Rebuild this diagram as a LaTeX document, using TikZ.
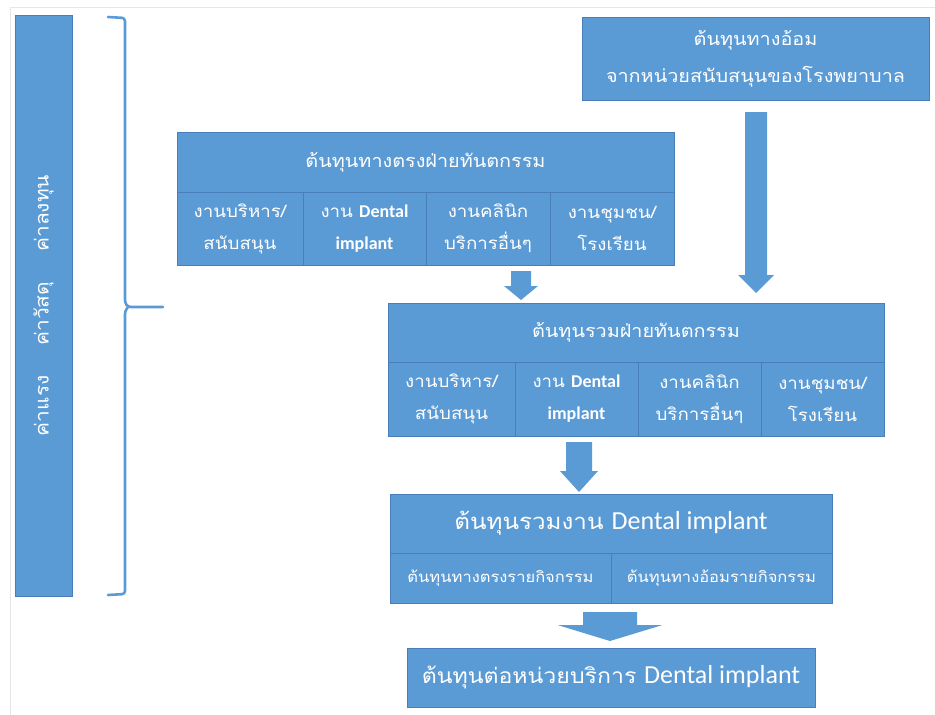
\documentclass[tikz,border=0pt]{standalone}
\usepackage{fontspec}
\setmainfont{Carlito}
\newfontfamily\thai[Script=Thai, FakeStretch=1.1]{Loma}
\definecolor{boxblue}{HTML}{5B9BD5}
\definecolor{edgeblue}{HTML}{4A7EBB}
\definecolor{framegray}{HTML}{E6E6E6}
\tikzset{
  cell/.style={rectangle, fill=boxblue, draw=edgeblue, line width=0.8pt,
    text=white, align=center, inner sep=0pt, font=\thai\fontsize{17}{32}\selectfont},
  subcell/.style={cell, font=\thai\fontsize{15}{32}\selectfont},
  head/.style={cell, font=\thai\fontsize{18}{36}\selectfont},
  bighead/.style={cell, font=\thai\fontsize{22}{36}\selectfont},
  blockarr/.style={fill=boxblue, draw=none},
  bracestyle/.style={draw=boxblue, line width=2.6pt, line join=round, line cap=round}
}
\newcommand\lat[1]{{\fontspec{Carlito}#1}}
\newcommand\latb[1]{{\fontspec{Carlito}\bfseries\fontsize{18}{32}\selectfont #1}}
% block arrow: center x, top y, shaft width, head width, head top y, tip y
\newcommand\blkarrow[6]{%
  \fill[blockarr] ({#1-#3/2},#2) -- ({#1+#3/2},#2) -- ({#1+#3/2},#5) -- ({#1+#4/2},#5)
    -- (#1,#6) -- ({#1-#4/2},#5) -- ({#1-#3/2},#5) -- cycle;}
\begin{document}
\begin{tikzpicture}[x=1pt,y=-1pt]
\useasboundingbox (0,0) rectangle (935,715);
\draw[framegray, line width=1pt] (10,715) -- (10,7) -- (935,7);

% left bar
\node[cell, minimum width=57pt, minimum height=581pt] (bar) at (43.5,305.5) {};
\node[rotate=90, text=white, font=\thai\fontsize{19}{22}\selectfont] (bartext) at (bar.center)
  {ค่าแรง\hspace{30pt}ค่าวัสดุ\hspace{30pt}ค่าลงทุน};

% brace
\coordinate (btop) at (108,17);
\coordinate (bbot) at (108,595);
\coordinate (btip) at (163,307);
\draw[bracestyle, rounded corners=3pt] (btop) -- (125,18) -- (125,303) -- (128,307) -- (btip);
\draw[bracestyle, rounded corners=3pt] (128,307) -- (125,311) -- (125,594) -- (bbot);

% indirect cost box
\node[head, minimum width=347pt, minimum height=83pt, font=\thai\fontsize{18}{37}\selectfont] (indirect) at (755.5,58.5)
  {ต้นทุนทางอ้อม\\จากหน่วยสนับสนุนของโรงพยาบาล};

% direct cost box
\node[head, minimum width=497pt, minimum height=60pt] (dhead) at (425.5,162) {ต้นทุนทางตรงฝ่ายทันตกรรม};
\node[cell, minimum width=126pt, minimum height=73pt] (d1) at (240,228.5) {งานบริหาร/\\สนับสนุน};
\node[cell, minimum width=123pt, minimum height=73pt] (d2) at (364.5,228.5) {งาน \latb{Dental}\\\latb{implant}};
\node[cell, minimum width=124pt, minimum height=73pt] (d3) at (488,228.5) {งานคลินิก\\บริการอื่นๆ};
\node[cell, minimum width=124pt, minimum height=73pt] (d4) at (612,228.5) {งานชุมชน/\\โรงเรียน};

% total dental dept box
\node[head, minimum width=496pt, minimum height=59pt] (thead) at (636,332.5) {ต้นทุนรวมฝ่ายทันตกรรม};
\node[cell, minimum width=127pt, minimum height=74pt] (t1) at (451.5,399) {งานบริหาร/\\สนับสนุน};
\node[cell, minimum width=123pt, minimum height=74pt] (t2) at (576.5,399) {งาน \latb{Dental}\\\latb{implant}};
\node[cell, minimum width=123pt, minimum height=74pt] (t3) at (699.5,399) {งานคลินิก\\บริการอื่นๆ};
\node[cell, minimum width=123pt, minimum height=74pt] (t4) at (822.5,399) {งานชุมชน/\\โรงเรียน};

% dental implant total box
\node[bighead, minimum width=442pt, minimum height=59pt] (ihead) at (611,523.5)
  {ต้นทุนรวมงาน \lat{\fontsize{26}{30}\selectfont Dental implant}};
\node[subcell, minimum width=221pt, minimum height=50pt] (i1) at (500.5,578) {ต้นทุนทางตรงรายกิจกรรม};
\node[subcell, minimum width=221pt, minimum height=50pt] (i2) at (721.5,578) {ต้นทุนทางอ้อมรายกิจกรรม};

% unit cost box
\node[bighead, minimum width=408pt, minimum height=59pt, font=\thai\fontsize{21}{36}\selectfont] (unit) at (611,677.5)
  {ต้นทุนต่อหน่วยบริการ \lat{\fontsize{26}{30}\selectfont Dental implant}};

% block arrows
\blkarrow{756}{112}{22}{36}{275}{293}
\blkarrow{521}{271}{20}{34}{286}{300}
\blkarrow{579}{442}{26}{38}{471}{492}
\blkarrow{610}{612}{54}{105}{625}{641}
\end{tikzpicture}
\end{document}
